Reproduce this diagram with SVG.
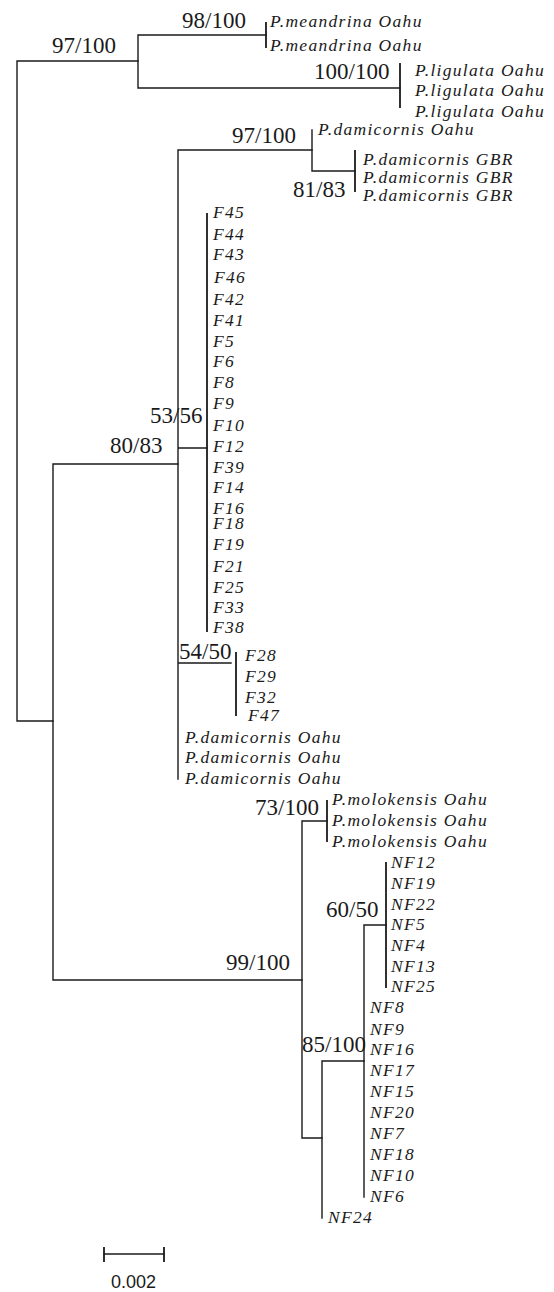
<svg xmlns="http://www.w3.org/2000/svg" width="554" height="1292" viewBox="0 0 554 1292">
<style>
.br{stroke:#1a1a1a;stroke-width:1.4;fill:none;stroke-linecap:square}
.tk{stroke:#1a1a1a;stroke-width:1.8;fill:none}
.tip{font-family:"Liberation Serif","Times New Roman",serif;font-style:italic;font-size:17.5px;letter-spacing:1.3px;fill:#1a1a1a}
.bs{font-family:"Liberation Serif","Times New Roman",serif;font-size:23px;fill:#1a1a1a}
.sc{font-family:"Liberation Sans",Arial,sans-serif;font-size:18px;fill:#1a1a1a}
</style>
<rect width="554" height="1292" fill="#fff"/>
<g id="connectors">
<path class="br" d="M17,61 V721 M17,61 H138 M17,721 H53"/>
<path class="br" d="M138,35 V88 M138,35 H266 M138,88 H400"/>
<path class="tk" d="M266,22 V48"/>
<path class="tk" d="M400,63 V108"/>
<path class="br" d="M53,464 V980 M53,464 H178 M53,980 H302"/>
<path class="br" d="M178,150 V779 M178,150 H312 M178,448 H207 M178,663 H231"/>
<path class="br" d="M312,130 V171 M312,171 H355"/>
<path class="tk" d="M355,150 V192"/>
<path class="tk" d="M207,213 V632"/>
<path class="tk" d="M236,652 V716"/>
<path class="br" d="M302,821 V1138 M302,821 H327 M302,1138 H322"/>
<path class="tk" d="M327,800 V842"/>
<path class="br" d="M322,1061 V1218 M322,1061 H364"/>
<path class="br" d="M364,925 V1197 M364,925 H386"/>
<path class="tk" d="M386,862 V988"/>
</g>
<g id="root">
<text class="bs" x="52" y="53">97/100</text>
</g>
<g id="meandrina">
<text class="bs" x="182" y="28">98/100</text>
<text class="tip" x="270" y="27">P.meandrina Oahu</text>
<text class="tip" x="270" y="51">P.meandrina Oahu</text>
</g>
<g id="ligulata">
<text class="bs" x="314" y="79">100/100</text>
<text class="tip" x="415" y="76">P.ligulata Oahu</text>
<text class="tip" x="415" y="96">P.ligulata Oahu</text>
<text class="tip" x="415" y="117">P.ligulata Oahu</text>
</g>
<g id="damicornis-80">
<text class="bs" x="110" y="453">80/83</text>
<text class="tip" x="185" y="743">P.damicornis Oahu</text>
<text class="tip" x="185" y="763">P.damicornis Oahu</text>
<text class="tip" x="185" y="784">P.damicornis Oahu</text>
</g>
<g id="damicornis-97">
<text class="bs" x="232" y="143">97/100</text>
<text class="tip" x="318" y="135">P.damicornis Oahu</text>
</g>
<g id="gbr">
<text class="bs" x="293" y="197">81/83</text>
<text class="tip" x="363" y="165">P.damicornis GBR</text>
<text class="tip" x="363" y="183">P.damicornis GBR</text>
<text class="tip" x="363" y="201">P.damicornis GBR</text>
</g>
<g id="f-clade">
<text class="bs" x="150" y="423">53/56</text>
<text class="tip" x="213" y="218">F45</text>
<text class="tip" x="213" y="240">F44</text>
<text class="tip" x="213" y="260">F43</text>
<text class="tip" x="214" y="283">F46</text>
<text class="tip" x="213" y="305">F42</text>
<text class="tip" x="213" y="326">F41</text>
<text class="tip" x="213" y="347">F5</text>
<text class="tip" x="213" y="367">F6</text>
<text class="tip" x="213" y="388">F8</text>
<text class="tip" x="213" y="409">F9</text>
<text class="tip" x="213" y="431">F10</text>
<text class="tip" x="213" y="452">F12</text>
<text class="tip" x="213" y="473">F39</text>
<text class="tip" x="213" y="493">F14</text>
<text class="tip" x="213" y="514">F16</text>
<text class="tip" x="213" y="529">F18</text>
<text class="tip" x="213" y="550">F19</text>
<text class="tip" x="213" y="572">F21</text>
<text class="tip" x="213" y="593">F25</text>
<text class="tip" x="213" y="613">F33</text>
<text class="tip" x="213" y="633">F38</text>
</g>
<g id="f28-clade">
<text class="bs" x="179" y="659">54/50</text>
<text class="tip" x="245" y="661">F28</text>
<text class="tip" x="245" y="682">F29</text>
<text class="tip" x="245" y="703">F32</text>
<text class="tip" x="248" y="721">F47</text>
</g>
<g id="nf-99">
<text class="bs" x="226" y="970">99/100</text>
</g>
<g id="molokensis">
<text class="bs" x="255" y="815">73/100</text>
<text class="tip" x="332" y="805">P.molokensis Oahu</text>
<text class="tip" x="332" y="826">P.molokensis Oahu</text>
<text class="tip" x="332" y="847">P.molokensis Oahu</text>
</g>
<g id="nf-60">
<text class="bs" x="326" y="917">60/50</text>
<text class="tip" x="391" y="868">NF12</text>
<text class="tip" x="391" y="889">NF19</text>
<text class="tip" x="391" y="910">NF22</text>
<text class="tip" x="391" y="930">NF5</text>
<text class="tip" x="391" y="951">NF4</text>
<text class="tip" x="391" y="972">NF13</text>
<text class="tip" x="391" y="992">NF25</text>
</g>
<g id="nf-85">
<text class="bs" x="302" y="1052">85/100</text>
<text class="tip" x="370" y="1013">NF8</text>
<text class="tip" x="370" y="1035">NF9</text>
<text class="tip" x="370" y="1055">NF16</text>
<text class="tip" x="370" y="1076">NF17</text>
<text class="tip" x="370" y="1097">NF15</text>
<text class="tip" x="370" y="1118">NF20</text>
<text class="tip" x="370" y="1139">NF7</text>
<text class="tip" x="370" y="1160">NF18</text>
<text class="tip" x="370" y="1181">NF10</text>
<text class="tip" x="370" y="1202">NF6</text>
<text class="tip" x="328" y="1223">NF24</text>
</g>
<g id="scale-bar">
<path class="br" d="M104,1254 H164"/>
<path class="tk" d="M104,1247 V1262 M164,1247 V1262"/>
<text class="sc" x="111" y="1288">0.002</text>
</g>
</svg>
